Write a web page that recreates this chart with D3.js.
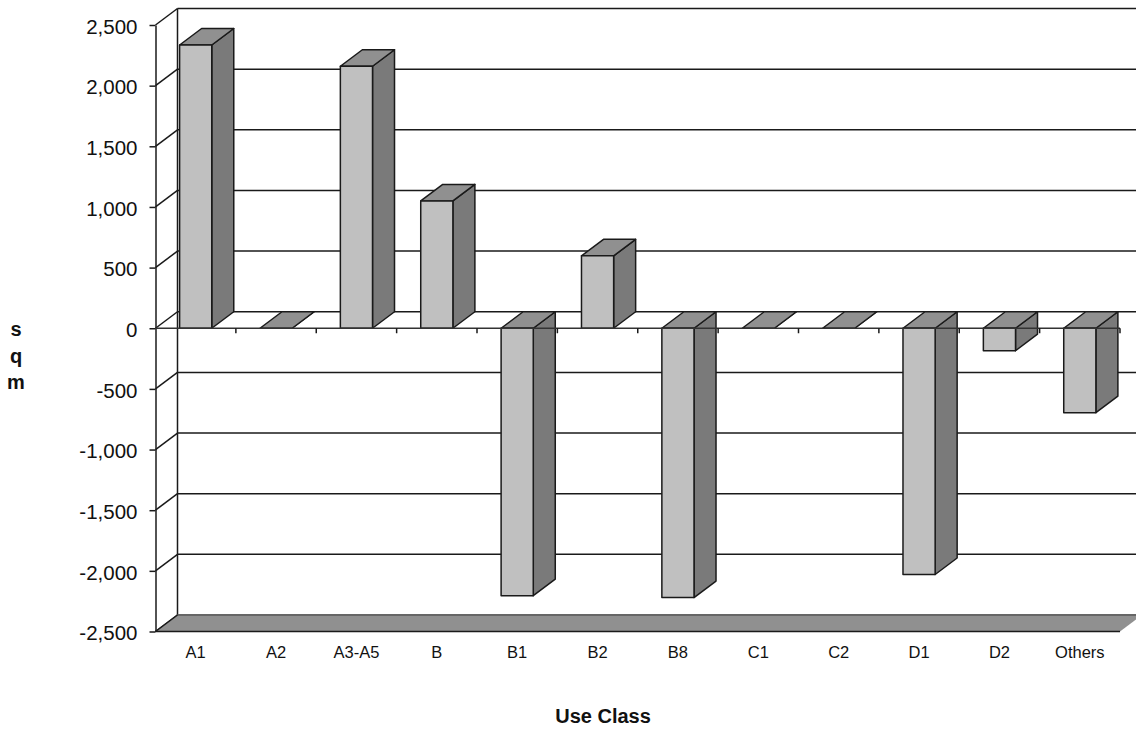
<!DOCTYPE html>
<html>
<head>
<meta charset="utf-8">
<script src="https://d3js.org/d3.v7.min.js"></script>
<style>
  html, body { margin: 0; padding: 0; background: #fff; }
  svg { display: block; }
  text { font-family: "Liberation Sans", Arial, sans-serif; fill: #111; }
</style>
</head>
<body>
<div id="chart"></div>
<script>
const categories = ["A1", "A2", "A3-A5", "B", "B1", "B2", "B8", "C1", "C2", "D1", "D2", "Others"];
const sqm = [2335, 0, 2160, 1050, -2205, 597, -2220, 0, 0, -2030, -185, -696];
const yTicks = [2500, 2000, 1500, 1000, 500, 0, -500, -1000, -1500, -2000, -2500];
const yLabelLetters = ["s", "q", "m"];

const width = 1136;
const height = 733;

// depth of the fake 3D box
const depthX = 22;
const depthY = -16.5;

const lineColor = "#1a1a1a";
const lineWidth = 1.5;

const x = d3.scaleBand()
  .domain(categories)
  .range([155.5, 1120])
  .paddingInner(0.6)
  .paddingOuter(0.3);

const y = d3.scaleLinear()
  .domain([-2500, 2500])
  .range([631.5, 25]);

const step = x.step();
const x0 = x.range()[0];
const x1 = x.range()[1];

const svg = d3.select("#chart")
  .append("svg")
  .attr("width", width)
  .attr("height", height);

const poly = (pts) => pts.map((p) => p.join(",")).join(" ");

// Back wall: gridlines and the diagonals back to the front axis
const wall = svg.append("g").attr("stroke", lineColor).attr("stroke-width", lineWidth);

wall.selectAll(".grid")
  .data(yTicks)
  .enter()
  .append("line")
  .attr("x1", x0 + depthX)
  .attr("x2", x1 + depthX)
  .attr("y1", (d) => y(d) + depthY)
  .attr("y2", (d) => y(d) + depthY);

wall.selectAll(".diag")
  .data(yTicks)
  .enter()
  .append("line")
  .attr("x1", x0)
  .attr("x2", x0 + depthX)
  .attr("y1", (d) => y(d))
  .attr("y2", (d) => y(d) + depthY);

wall.append("line")
  .attr("x1", x0 + depthX)
  .attr("x2", x0 + depthX)
  .attr("y1", y(2500) + depthY)
  .attr("y2", y(-2500) + depthY);

// Floor
svg.append("polygon")
  .attr("points", poly([
    [x0, y(-2500)],
    [x0 + depthX, y(-2500) + depthY],
    [x1 + depthX, y(-2500) + depthY],
    [x1, y(-2500)],
  ]))
  .attr("fill", "#909090");

svg.append("line")
  .attr("x1", x0 + depthX)
  .attr("x2", x1 + depthX)
  .attr("y1", y(-2500) + depthY)
  .attr("y2", y(-2500) + depthY)
  .attr("stroke", "#666")
  .attr("stroke-width", 2);

svg.append("line")
  .attr("x1", x0)
  .attr("x2", x1)
  .attr("y1", y(-2500))
  .attr("y2", y(-2500))
  .attr("stroke", lineColor)
  .attr("stroke-width", lineWidth);

svg.append("line")
  .attr("x1", x0)
  .attr("x2", x0 + depthX)
  .attr("y1", y(-2500))
  .attr("y2", y(-2500) + depthY)
  .attr("stroke", lineColor)
  .attr("stroke-width", lineWidth);

// Bars: front, top and side faces
const bars = svg.selectAll(".bar")
  .data(categories.map((c, i) => ({ cat: c, val: sqm[i] })))
  .enter()
  .append("g")
  .attr("class", "bar")
  .attr("stroke", lineColor)
  .attr("stroke-width", lineWidth)
  .attr("stroke-linejoin", "round");

const barTop = (d) => y(Math.max(d.val, 0));
const barBottom = (d) => y(Math.min(d.val, 0));
const bl = (d) => x(d.cat);
const br = (d) => x(d.cat) + x.bandwidth();

bars.append("polygon")
  .attr("fill", "#7a7a7a")
  .attr("points", (d) => poly([
    [br(d), barTop(d)],
    [br(d) + depthX, barTop(d) + depthY],
    [br(d) + depthX, barBottom(d) + depthY],
    [br(d), barBottom(d)],
  ]));

bars.append("polygon")
  .attr("fill", "#909090")
  .attr("points", (d) => poly([
    [bl(d), barTop(d)],
    [bl(d) + depthX, barTop(d) + depthY],
    [br(d) + depthX, barTop(d) + depthY],
    [br(d), barTop(d)],
  ]));

bars.append("rect")
  .attr("fill", "#c0c0c0")
  .attr("x", bl)
  .attr("y", barTop)
  .attr("width", x.bandwidth())
  .attr("height", (d) => barBottom(d) - barTop(d));

// Left axis
const yAxis = svg.append("g")
  .attr("transform", `translate(${x0},0)`)
  .call(d3.axisLeft(y)
    .tickValues(yTicks)
    .tickFormat((d) => d3.format(",")(d).replace("\u2212", "-"))
    .tickSize(6)
    .tickSizeOuter(0)
    .tickPadding(12));

yAxis.selectAll("path, line").attr("stroke", lineColor).attr("stroke-width", lineWidth);
yAxis.selectAll("text")
  .attr("font-size", 20.5)
  .attr("dy", "0.4em")
  .style("font-family", '"Liberation Sans", Arial, sans-serif')
  .attr("fill", "#111");

// Zero line with ticks between categories
svg.append("line")
  .attr("x1", x0)
  .attr("x2", x1)
  .attr("y1", y(0))
  .attr("y2", y(0))
  .attr("stroke", "#333")
  .attr("stroke-width", lineWidth);

svg.selectAll(".xtick")
  .data(categories)
  .enter()
  .append("line")
  .attr("x1", (d) => x(d) + x.bandwidth() + step * 0.3)
  .attr("x2", (d) => x(d) + x.bandwidth() + step * 0.3)
  .attr("y1", y(0))
  .attr("y2", y(0) + 5)
  .attr("stroke", lineColor)
  .attr("stroke-width", lineWidth);

// Category labels sit below the floor
svg.selectAll(".xlabel")
  .data(categories)
  .enter()
  .append("text")
  .attr("x", (d) => x(d) + x.bandwidth() / 2)
  .attr("y", 658)
  .attr("text-anchor", "middle")
  .attr("font-size", 16.5)
  .text((d) => d);

// Axis titles
svg.append("text")
  .attr("x", 603)
  .attr("y", 722.5)
  .attr("text-anchor", "middle")
  .attr("font-size", 20)
  .attr("font-weight", 700)
  .text("Use Class");

svg.selectAll(".ylabel")
  .data(yLabelLetters)
  .enter()
  .append("text")
  .attr("x", 16)
  .attr("y", (d, i) => 336 + i * 26.7)
  .attr("text-anchor", "middle")
  .attr("font-size", 20)
  .attr("font-weight", 700)
  .text((d) => d);
</script>
</body>
</html>
